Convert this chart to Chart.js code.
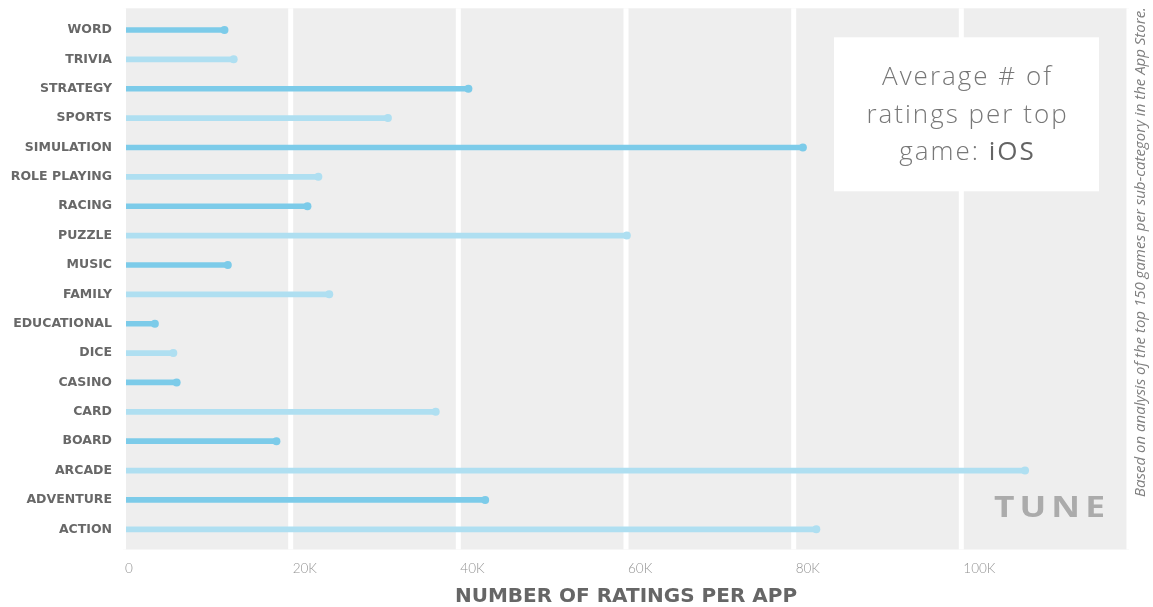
<!DOCTYPE html>
<html>
<head>
<meta charset="utf-8">
<script src="https://cdn.jsdelivr.net/npm/chart.js@4"></script>
<style>
  body { margin: 0; background: #fff; }
  #wrap { width: 1153px; height: 607px; position: relative; }
</style>
</head>
<body>
<div id="wrap"><canvas id="ratings"></canvas></div>
<script>
const categories = [
    'WORD', 'TRIVIA', 'STRATEGY', 'SPORTS', 'SIMULATION', 'ROLE PLAYING',
    'RACING', 'PUZZLE', 'MUSIC', 'FAMILY', 'EDUCATIONAL', 'DICE',
    'CASINO', 'CARD', 'BOARD', 'ARCADE', 'ADVENTURE', 'ACTION'
];
const ratings = [
    12100, 13200, 41200, 31600, 81100, 23300,
    22000, 60100, 12500, 24600, 3800, 6000,
    6400, 37300, 18300, 107600, 43200, 82700
];
const xMax = 120000;
const xStep = 20000;
const titleLines = ['Average # of', 'ratings per top', 'game: '];
const titleStrong = 'iOS';
const footnote = 'Based on analysis of the top 150 games per sub-category in the App Store.';

const colours = ['#7ccbe9', '#afdff1'];
const barColours = categories.map((c, i) => colours[i % 2]);

// gray panel + thick white vertical grid, painted under the bars
const panel = {
    id: 'panel',
    beforeDatasetsDraw(chart) {
        const { ctx, chartArea: a, scales: { x } } = chart;
        const top = a.top - 7, h = a.bottom - a.top + 12.5;
        ctx.save();
        ctx.fillStyle = '#eeeeee';
        ctx.fillRect(a.left, top, a.right - a.left, h);
        ctx.fillStyle = '#ffffff';
        x.ticks.forEach(t => {
            const px = x.getPixelForValue(t.value);
            ctx.fillRect(px - 2.5, top, 5, h);
        });
        ctx.restore();
    },
    afterDatasetsDraw(chart) {
        const { ctx, chartArea: a, scales: { x } } = chart;
        const px = x.getPixelForValue(0);
        ctx.save();
        ctx.fillStyle = '#ffffff';
        ctx.fillRect(px - 3, a.top - 7, 6, a.bottom - a.top + 12.5);
        ctx.restore();
    },
    afterDraw(chart) {
        const { ctx, chartArea: a } = chart;
        ctx.save();

        // title card
        const bx = a.right - 295, by = a.top + 22, bw = 265, bh = 154;
        ctx.fillStyle = '#ffffff';
        ctx.fillRect(bx, by, bw, bh);
        const cx = bx + bw / 2 + 1;
        const light = '300 26px "Open Sans"', strong = '500 26px "Open Sans"';
        ctx.letterSpacing = '2px';
        ctx.textBaseline = 'alphabetic';
        ctx.textAlign = 'center';
        ctx.fillStyle = '#777777';
        ctx.font = light;
        ctx.fillText(titleLines[0], cx, by + 48);
        ctx.fillText(titleLines[1], cx, by + 86);
        const w1 = ctx.measureText(titleLines[2]).width;
        ctx.font = strong;
        const w2 = ctx.measureText(titleStrong).width;
        ctx.textAlign = 'left';
        const sx = cx - (w1 + w2) / 2;
        ctx.font = light;
        ctx.fillText(titleLines[2], sx, by + 123);
        ctx.fillStyle = '#646464';
        ctx.font = strong;
        ctx.fillText(titleStrong, sx + w1, by + 123);
        ctx.letterSpacing = '0px';

        // brand mark, stretched to its box
        ctx.fillStyle = '#ababab';
        ctx.font = '700 28px "Open Sans"';
        ctx.letterSpacing = '4px';
        const lw = ctx.measureText('TUNE').width - 4;
        ctx.save();
        ctx.translate(a.right - 135, a.bottom - 27.5);
        ctx.scale(111 / lw, 1);
        ctx.fillText('TUNE', 0, 0);
        ctx.restore();
        ctx.letterSpacing = '0px';

        // side note
        ctx.translate(1141, 252);
        ctx.rotate(-Math.PI / 2);
        ctx.textAlign = 'center';
        ctx.textBaseline = 'middle';
        ctx.fillStyle = '#808080';
        ctx.font = 'italic 15px "Open Sans"';
        ctx.fillText(footnote, 0, 0);
        ctx.restore();
    }
};

const ctx = document.getElementById('ratings').getContext('2d');
const myChart = new Chart(ctx, {
    type: 'bar',
    data: {
        labels: categories,
        datasets: [{
            data: ratings,
            backgroundColor: barColours,
            barThickness: 5,
            borderWidth: 0,
            order: 2
        }, {
            type: 'line',
            data: ratings,
            showLine: false,
            pointRadius: 4,
            pointHoverRadius: 4,
            pointBorderWidth: 0,
            pointBackgroundColor: barColours,
            order: 1
        }]
    },
    options: {
        indexAxis: 'y',
        responsive: true,
        maintainAspectRatio: false,
        animation: false,
        layout: { padding: { top: 15.3, right: 24, left: 0, bottom: 0 } },
        plugins: {
            legend: { display: false },
            tooltip: { enabled: false }
        },
        scales: {
            y: {
                grid: { display: false, drawTicks: false },
                border: { display: false },
                ticks: {
                    autoSkip: false,
                    padding: 11,
                    color: '#686868',
                    font: { family: '"DejaVu Sans"', size: 12.5, weight: 'bold' }
                },
                afterFit: (scale) => {
                    scale.width = 123;
                    scale.paddingTop = 0;
                    scale.paddingBottom = 0;
                }
            },
            x: {
                min: 0,
                max: xMax,
                grid: { display: false, drawTicks: false },
                border: { display: false },
                ticks: {
                    stepSize: xStep,
                    align: 'start',
                    labelOffset: 2,
                    padding: 17,
                    color: '#939393',
                    font: { family: 'Lato', size: 13.5, weight: '300' },
                    callback: (v) => v >= xMax ? '' : (v === 0 ? '0' : (v / 1000) + 'K')
                },
                title: {
                    display: true,
                    text: 'NUMBER OF RATINGS PER APP',
                    color: '#666666',
                    font: { family: '"DejaVu Sans"', size: 20, weight: 'bold' },
                    padding: { top: 0, bottom: -2 }
                },
                afterFit: (scale) => { scale.height = 63; }
            }
        }
    },
    plugins: [panel]
});
</script>
</body>
</html>
